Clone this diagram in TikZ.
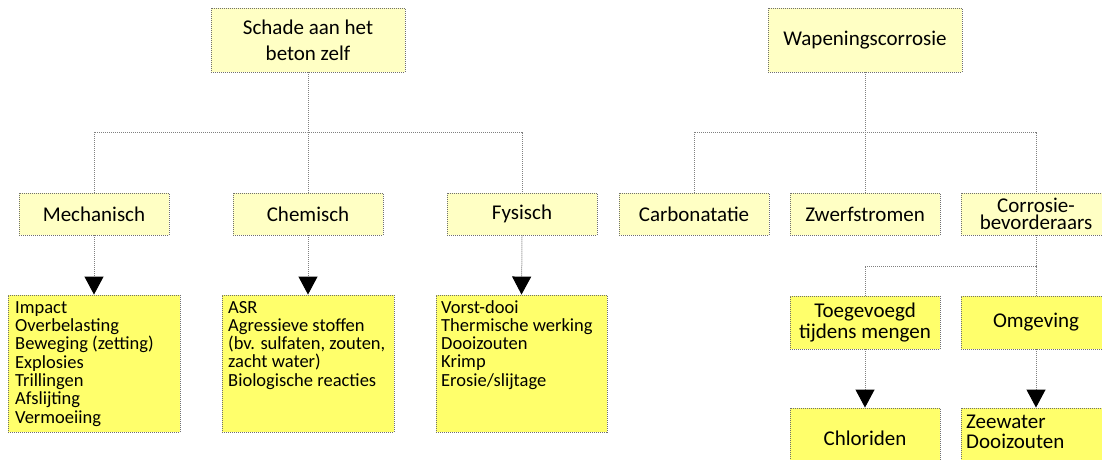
\documentclass[tikz,border=0pt]{standalone}
\usepackage{fontspec}
\setmainfont{Carlito}
\usetikzlibrary{arrows.meta}
\definecolor{lightyel}{HTML}{FFFFC4}
\definecolor{brightyel}{HTML}{FFFF6B}
\definecolor{boxborder}{HTML}{707070}
\definecolor{linecol}{HTML}{808080}
\tikzset{
  boxbase/.style={draw=boxborder, line width=0.9pt, dash pattern=on 1pt off 1pt, inner sep=0pt, align=center},
  lightbox/.style={boxbase, fill=lightyel, minimum width=150pt, minimum height=42pt, font=\fontsize{21}{21}\selectfont},
  topbox/.style={boxbase, fill=lightyel, minimum width=194pt, minimum height=64pt},
  brightbox/.style={boxbase, fill=brightyel},
  listtext/.style={inner sep=0pt, align=left, font=\fontsize{18.5}{18.3}\selectfont},
  conn/.style={draw=linecol, line width=1pt, dash pattern=on 1pt off 1pt},
  arr/.style={conn, -{Triangle[width=19pt,length=18pt,black]}},
}
\begin{document}
\begin{tikzpicture}[x=1pt,y=-1pt]
\useasboundingbox (0,0) rectangle (1102,459);
% top boxes
\node[topbox, font=\fontsize{21}{26}\selectfont] (schade) at (308,40) {Schade aan het\\beton zelf};
\node[topbox, font=\fontsize{21}{21}\selectfont] (wap) at (865,40) {Wapeningscorrosie};
% row 2
\node[lightbox] (mech) at (94,214) {Mechanisch};
\node[lightbox] (chem) at (308,214) {Chemisch};
\node[lightbox] (fys) at (522,214) {Fysisch};
\node[lightbox] (carb) at (694,214) {Carbonatatie};
\node[lightbox] (zwerf) at (865,214) {Zwerfstromen};
\node[lightbox, font=\fontsize{21}{17.5}\selectfont] (corr) at (1036,214) {Corrosie-\\bevorderaars};
% lists
\node[brightbox, minimum width=172pt, minimum height=137pt] (mechlist) at (94,363.5) {};
\node[brightbox, minimum width=172pt, minimum height=137pt] (chemlist) at (308,363.5) {};
\node[brightbox, minimum width=171pt, minimum height=137pt] (fyslist) at (521.5,363.5) {};
\node[listtext, anchor=base west] (mechtxt) at (15,423) {Impact\\Overbelasting\\Beweging (zetting)\\Explosies\\Trillingen\\Afslijting\\Vermoeiing};
\node[listtext, anchor=base west] (chemtxt) at (228,386.2) {ASR\\Agressieve stoffen\\(bv. sulfaten, zouten,\\zacht water)\\Biologische reacties};
\node[listtext, anchor=base west] (fystxt) at (441,386.2) {Vorst-dooi\\Thermische werking\\Dooizouten\\Krimp\\Erosie/slijtage};
% lower right
\node[brightbox, minimum width=150pt, minimum height=53pt, font=\fontsize{21}{21}\selectfont] (toeg) at (865,322.5) {Toegevoegd\\tijdens mengen};
\node[brightbox, minimum width=150pt, minimum height=53pt, font=\fontsize{21}{21}\selectfont] (omg) at (1036,322.5) {Omgeving};
\node[brightbox, minimum width=150pt, minimum height=60pt, font=\fontsize{21}{21}\selectfont] (chlor) at (865,438) {Chloriden};
\node[brightbox, minimum width=150pt, minimum height=60pt] (zee) at (1036,438) {};
\node[inner sep=0pt, align=left, anchor=base west, font=\fontsize{21}{20}\selectfont] (zeetxt) at (966,448) {Zeewater\\Dooizouten};
% connectors
\coordinate (lj) at (308,132);
\coordinate (rj) at (865,132);
\coordinate (cj) at (1036,266);
\draw[conn] (schade.south) -- (lj);
\draw[conn] (mech.north) |- (lj) -| (fys.north);
\draw[conn] (lj) -- (chem.north);
\draw[conn] (wap.south) -- (rj);
\draw[conn] (carb.north) |- (rj) -| (corr.north);
\draw[conn] (rj) -- (zwerf.north);
\draw[conn] (corr.south) -- (cj);
\draw[conn] (toeg.north) |- (cj) -- (omg.north);
\draw[arr] (mech.south) -- (mechlist.north);
\draw[arr] (chem.south) -- (chemlist.north);
\draw[arr] (fys.south) -- (fyslist.north);
\draw[arr] (toeg.south) -- (chlor.north);
\draw[arr] (omg.south) -- (zee.north);
\end{tikzpicture}
\end{document}
